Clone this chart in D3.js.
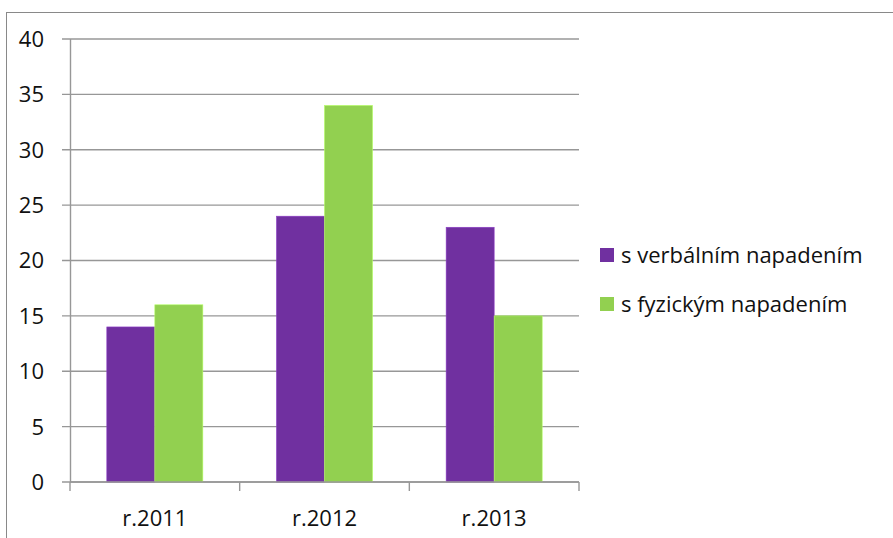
<!DOCTYPE html>
<html>
<head>
<meta charset="utf-8">
<script src="https://cdn.jsdelivr.net/npm/d3@7"></script>
<style>
  body { margin: 0; background: #fff; }
  text { font-family: "Open Sans", "Noto Sans", sans-serif; fill: #111; }
</style>
</head>
<body>
<svg id="chart"></svg>
<script>
// data
var categories = ["r.2011", "r.2012", "r.2013"];
var seriesNames = ["s verbálním napadením", "s fyzickým napadením"];
var verbalni = [14, 24, 23];
var fyzicke = [16, 34, 15];
var yTicks = [0, 5, 10, 15, 20, 25, 30, 35, 40];
var colors = ["#7030a0", "#92d050"];

var W = 893, H = 538;
var margin = {top: 39, left: 70, right: 314, bottom: 56};
var width = W - margin.left - margin.right,
    height = H - margin.top - margin.bottom;

var svg = d3.select("#chart").attr("width", W).attr("height", H);

// rámeček grafu
svg.append("rect")
  .attr("x", 6.5).attr("y", 12.5)
  .attr("width", W + 10).attr("height", H + 10)
  .attr("fill", "none").attr("stroke", "#898989").attr("stroke-width", 1);

var g = svg.append("g").attr("transform", "translate(" + margin.left + "," + margin.top + ")");

var x = d3.scaleBand().domain(categories).range([0, width]).paddingInner(0.434).paddingOuter(0.217);
var xs = d3.scaleBand().domain([0, 1]).range([0, x.bandwidth()]);
var y = d3.scaleLinear().domain([0, 40]).range([height, 0]);

// mřížka
g.selectAll(".grid").data(yTicks).enter().append("line")
  .attr("x1", -8).attr("x2", width)
  .attr("y1", function(d) { return y(d); }).attr("y2", function(d) { return y(d); })
  .attr("stroke", "#979797").attr("stroke-width", 1.4);

// popisky osy y
g.selectAll(".ylab").data(yTicks).enter().append("text")
  .attr("x", -26).attr("y", function(d) { return y(d); })
  .attr("dy", "0.36em").attr("text-anchor", "end")
  .style("font-size", "22px")
  .text(function(d) { return d; });

// sloupce
var series = [verbalni, fyzicke];
series.forEach(function(vals, s) {
  g.selectAll(".bar" + s).data(vals).enter().append("rect")
    .attr("x", function(d, i) { return x(categories[i]) + xs(s); })
    .attr("width", xs.bandwidth())
    .attr("y", function(d) { return y(d); })
    .attr("height", function(d) { return y(0) - y(d); })
    .attr("fill", colors[s])
    .attr("stroke", d3.color(colors[s]).brighter(0.6)).attr("stroke-width", 0.6);
});

// osa y
g.append("line").attr("x1", 0.5).attr("x2", 0.5).attr("y1", 0).attr("y2", height)
  .attr("stroke", "#979797").attr("stroke-width", 1.4);

// osa x
g.append("line").attr("x1", 0).attr("x2", width).attr("y1", height).attr("y2", height)
  .attr("stroke", "#979797").attr("stroke-width", 1.4);
var step = x.step();
g.selectAll(".xtick").data(d3.range(categories.length + 1)).enter().append("line")
  .attr("x1", function(i) { return i * step; }).attr("x2", function(i) { return i * step; })
  .attr("y1", height).attr("y2", height + 9)
  .attr("stroke", "#979797").attr("stroke-width", 1.4);

g.selectAll(".xlab").data(categories).enter().append("text")
  .attr("x", function(d) { return x(d) + x.bandwidth() / 2; })
  .attr("y", height + 44)
  .attr("text-anchor", "middle")
  .style("font-size", "22px")
  .text(function(d) { return d; });

// legenda
var leg = svg.append("g").attr("transform", "translate(600,248)");
seriesNames.forEach(function(name, i) {
  leg.append("rect").attr("x", 0).attr("y", i * 49).attr("width", 14).attr("height", 14)
    .attr("fill", colors[i]);
  leg.append("text").attr("x", 21).attr("y", i * 49 + 7).attr("dy", "0.36em")
    .style("font-size", "22px").text(name);
});
</script>
</body>
</html>
